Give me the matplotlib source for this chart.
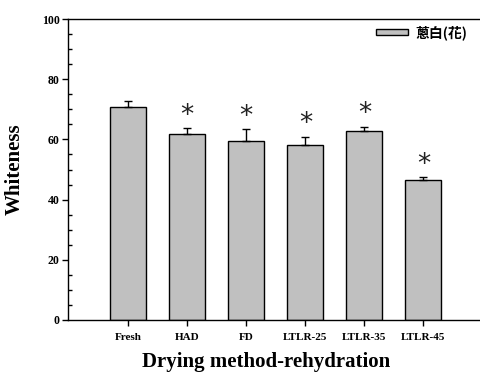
import numpy as np
import matplotlib
matplotlib.use('Agg')
import matplotlib.pyplot as plt
from matplotlib.ticker import MultipleLocator

# Whiteness of rehydrated samples by drying method
methods = ['Fresh', 'HAD', 'FD', 'LTLR-25', 'LTLR-35', 'LTLR-45']
whiteness = [70.7, 61.8, 59.6, 58.3, 62.9, 46.5]
whiteness_sd = [1.9, 1.9, 3.8, 2.6, 1.3, 0.9]
significant = [False, True, True, True, True, True]
series_name = '蔥白(花)'

SERIF = ['Liberation Serif', 'DejaVu Serif']

fig = plt.figure(figsize=(4.81, 3.78), dpi=100)
ax = fig.add_axes([68 / 481, 1 - 320 / 378, 1.003 - 68 / 481, (320 - 19) / 378])

x = np.arange(len(methods))
ax.bar(x, whiteness, width=0.61, color='#c0c0c0', edgecolor='black',
       linewidth=1.0, label=series_name, zorder=2)
ax.errorbar(x, whiteness, yerr=[np.zeros(len(x)), whiteness_sd], fmt='none',
            ecolor='black', elinewidth=1.0, capsize=3.2, capthick=1.0, zorder=3)

# significance markers above the error bars
for xi, m, s, sig in zip(x, whiteness, whiteness_sd, significant):
    if sig:
        ax.text(xi, m + s + 4.2, '*', ha='center', va='center', fontsize=19,
                family=['DejaVu Sans'], color='#222222')

ax.set_xlim(-1.02, 6.0)
ax.set_ylim(0, 100)
ax.set_xticks(x)
ax.set_xticklabels(methods)
ax.yaxis.set_major_locator(MultipleLocator(20))
ax.yaxis.set_minor_locator(MultipleLocator(5))

for lbl in ax.get_xticklabels():
    lbl.set_family(SERIF)
    lbl.set_fontweight('bold')
    lbl.set_fontsize(8)
for lbl in ax.get_yticklabels():
    lbl.set_family(SERIF)
    lbl.set_fontweight('bold')
    lbl.set_fontsize(8.5)

ax.tick_params(axis='y', which='major', direction='out', length=4, width=1, pad=2)
ax.tick_params(axis='y', which='minor', direction='in', length=3, width=1, left=True, right=False)
ax.tick_params(axis='y', which='major', right=True)
ax.tick_params(axis='x', direction='out', length=4, width=1, pad=5)

for side in ['left', 'bottom', 'top']:
    ax.spines[side].set_linewidth(1.0)
ax.spines['right'].set_visible(False)

ax.set_ylabel('Whiteness', family=SERIF, fontweight='bold', fontsize=15)
ax.yaxis.set_label_coords(-0.104, 0.5)
ax.set_xlabel('Drying method-rehydration', family=SERIF, fontweight='bold', fontsize=15)
ax.xaxis.set_label_coords(0.477, -0.105)

leg = ax.legend(loc='upper left', bbox_to_anchor=((375 - 68) / 413, (320 - 25) / 301),
                frameon=False, borderpad=0, borderaxespad=0, handlelength=2.3,
                handleheight=0.3, handletextpad=0.55,
                prop={'family': ['Noto Sans CJK TC', 'DejaVu Sans'], 'weight': 'bold', 'size': 10})

fig.savefig('out.png', dpi=100)
